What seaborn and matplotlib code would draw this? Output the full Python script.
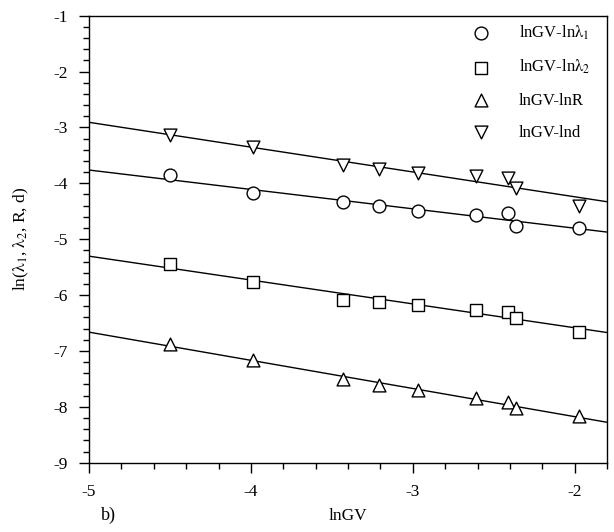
import numpy as np
import pandas as pd
import matplotlib
matplotlib.use('Agg')
import matplotlib.pyplot as plt
from matplotlib.ticker import MultipleLocator
import seaborn as sns

# 데이터
ln_gv = [-4.50, -3.99, -3.43, -3.21, -2.97, -2.61, -2.41, -2.36, -1.97]
ln_lambda1 = [-3.86, -4.18, -4.33, -4.41, -4.49, -4.57, -4.535, -4.77, -4.805]
ln_lambda2 = [-5.44, -5.77, -6.08, -6.12, -6.17, -6.27, -6.30, -6.41, -6.67]
ln_r = [-6.87, -7.17, -7.51, -7.61, -7.70, -7.84, -7.92, -8.03, -8.17]
ln_d = [-3.13, -3.345, -3.67, -3.75, -3.81, -3.875, -3.91, -4.08, -4.40]

labels = [r'lnGV-ln$\mathrm{\lambda}_1$', r'lnGV-ln$\mathrm{\lambda}_2$', 'lnGV-lnR', 'lnGV-lnd']
series = [ln_lambda1, ln_lambda2, ln_r, ln_d]
markers = ['o', 's', '^', 'v']

sns.set_theme(style='ticks')
plt.rcParams['font.family'] = ['Liberation Serif', 'DejaVu Serif']
plt.rcParams['mathtext.fontset'] = 'stix'
plt.rcParams['axes.unicode_minus'] = False
plt.rcParams['text.color'] = 'black'
plt.rcParams['axes.labelcolor'] = 'black'
plt.rcParams['xtick.color'] = 'black'
plt.rcParams['ytick.color'] = 'black'

fig = plt.figure(figsize=(6.14, 5.32), dpi=100)
ax = fig.add_axes([0.145, 0.1303, 0.8436, 0.8402])
ax.set_xlim(-5, -1.8)
ax.set_ylim(-9, -1)

for vals, lab, m in zip(series, labels, markers):
    df = pd.DataFrame({'x': ln_gv, 'y': vals})
    # 회귀선 (축 범위 전체로 연장)
    sns.regplot(data=df, x='x', y='y', ax=ax, ci=None, truncate=False, scatter=False,
                line_kws={'color': 'black', 'linewidth': 1.0})
    sns.scatterplot(data=df, x='x', y='y', ax=ax, marker=m, s=85, facecolor='white',
                    edgecolor='black', linewidth=1.0, label=lab, zorder=3)

ax.set_xlim(-5, -1.8)
ax.set_ylim(-9, -1)
ax.xaxis.set_major_locator(MultipleLocator(1))
ax.xaxis.set_minor_locator(MultipleLocator(0.2))
ax.yaxis.set_major_locator(MultipleLocator(1))
ax.yaxis.set_minor_locator(MultipleLocator(0.2))
ax.tick_params(which='major', direction='out', length=7, width=1,
               labelsize=12.5, pad=8)
ax.tick_params(which='minor', direction='out', length=4, width=1)
ax.tick_params(axis='x', which='major', pad=8)
for sp in ax.spines.values():
    sp.set_color('black')
    sp.set_linewidth(1.0)

ax.set_xlabel('lnGV', fontsize=12.5, labelpad=6)
ax.set_ylabel(r'ln($\mathrm{\lambda}_1$, $\mathrm{\lambda}_2$, R, d)', fontsize=12.5, labelpad=16)
fig.text(0.165, 0.032, 'b)', fontsize=13, ha='left', va='center')

leg = ax.legend(loc='upper right', bbox_to_anchor=(1.0, 1.02), frameon=False, fontsize=12,
                handletextpad=1.3, labelspacing=0.97, borderaxespad=0.6)

plt.savefig('out.png', dpi=100)
plt.close()
